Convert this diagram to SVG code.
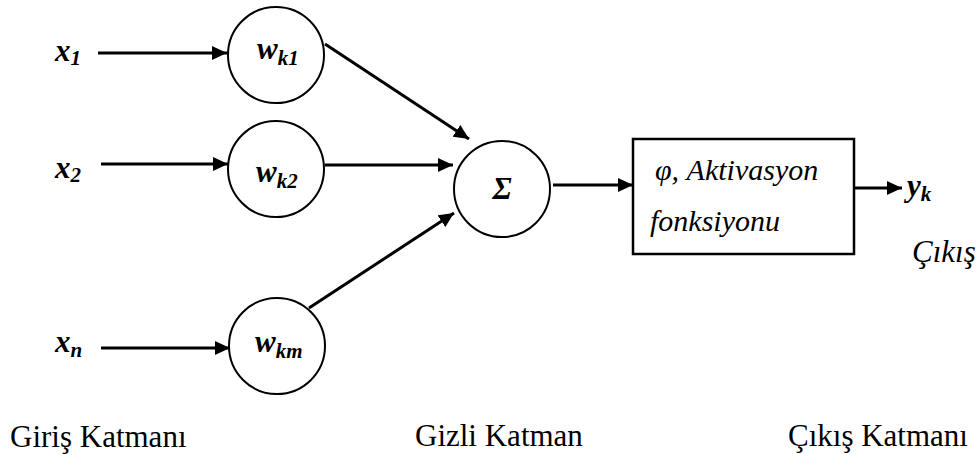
<svg xmlns="http://www.w3.org/2000/svg" width="979" height="455" viewBox="0 0 979 455">
<defs>
<marker id="ah" markerUnits="userSpaceOnUse" markerWidth="16" markerHeight="14" refX="15" refY="7" orient="auto">
<path d="M0,0 L15,7 L0,14 Z" fill="#000"/>
</marker>
</defs>
<g id="connectors" stroke="#000" stroke-width="3" fill="none">
<line x1="98" y1="53" x2="227" y2="53" marker-end="url(#ah)"/>
<line x1="101" y1="164" x2="228" y2="164" marker-end="url(#ah)"/>
<line x1="101" y1="348" x2="230" y2="348" marker-end="url(#ah)"/>
<line x1="325" y1="44" x2="469" y2="139" marker-end="url(#ah)"/>
<line x1="325" y1="165" x2="453" y2="165" marker-end="url(#ah)"/>
<line x1="309" y1="308" x2="454" y2="213" marker-end="url(#ah)"/>
<line x1="553" y1="185" x2="633" y2="185" marker-end="url(#ah)"/>
<line x1="854" y1="188" x2="902" y2="188" marker-end="url(#ah)"/>
</g>
<g id="x1"><text font-family="Liberation Serif" font-style="italic" font-weight="bold" font-size="31" x="55" y="61">x<tspan font-size="21" dy="4">1</tspan></text></g>
<g id="x2"><text font-family="Liberation Serif" font-style="italic" font-weight="bold" font-size="31" x="55" y="178">x<tspan font-size="21" dy="4">2</tspan></text></g>
<g id="xn"><text font-family="Liberation Serif" font-style="italic" font-weight="bold" font-size="31" x="55" y="352">x<tspan font-size="21" dy="5">n</tspan></text></g>
<g id="wk1"><circle cx="276" cy="55" r="48" fill="#fff" stroke="#000" stroke-width="2"/><text font-family="Liberation Serif" font-style="italic" font-weight="bold" font-size="31" x="257" y="59">w<tspan font-size="21" dy="6">k1</tspan></text></g>
<g id="wk2"><circle cx="276" cy="169" r="48" fill="#fff" stroke="#000" stroke-width="2"/><text font-family="Liberation Serif" font-style="italic" font-weight="bold" font-size="31" x="256" y="182">w<tspan font-size="21" dy="6">k2</tspan></text></g>
<g id="wkm"><circle cx="277" cy="346" r="48" fill="#fff" stroke="#000" stroke-width="2"/><text font-family="Liberation Serif" font-style="italic" font-weight="bold" font-size="31" x="255" y="352">w<tspan font-size="21" dy="6">km</tspan></text></g>
<g id="sum"><circle cx="502" cy="189" r="48" fill="#fff" stroke="#000" stroke-width="2"/><text font-family="Liberation Serif" font-style="italic" font-weight="bold" font-size="31" x="502" y="199" text-anchor="middle">Σ</text></g>
<g id="act"><rect x="633" y="139" width="221" height="115" fill="#fff" stroke="#000" stroke-width="2.5"/>
<text font-family="Liberation Serif" font-style="italic" font-size="30" x="655" y="180">φ, Aktivasyon</text>
<text font-family="Liberation Serif" font-style="italic" font-size="30" x="650" y="231">fonksiyonu</text></g>
<g id="yk"><text font-family="Liberation Serif" font-style="italic" font-weight="bold" font-size="31" x="907" y="196">y<tspan font-size="21" dy="5">k</tspan></text></g>
<g id="cikis"><text font-family="Liberation Serif" font-style="italic" font-size="31" x="912" y="262">Çıkış</text></g>
<g id="labels">
<text font-family="Liberation Serif" font-size="31" x="10" y="447">Giriş Katmanı</text>
<text font-family="Liberation Serif" font-size="31" x="415" y="446">Gizli Katman</text>
<text font-family="Liberation Serif" font-size="31" x="788" y="446">Çıkış Katmanı</text>
</g>
</svg>
